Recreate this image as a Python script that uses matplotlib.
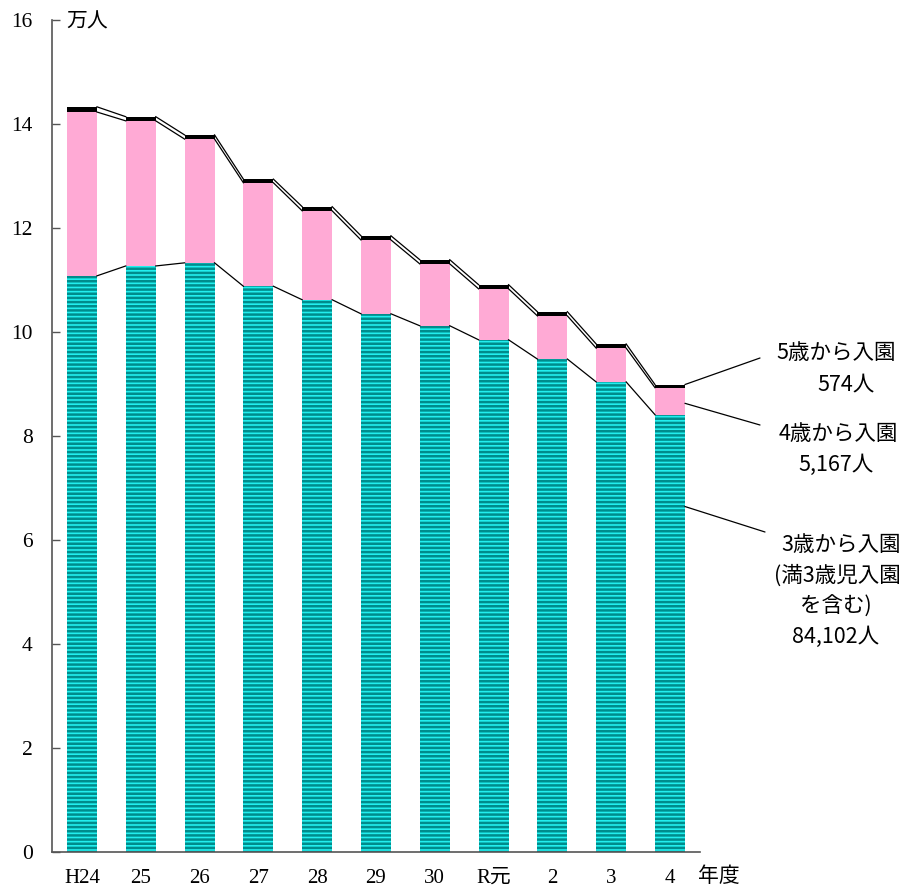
import matplotlib.pyplot as plt
import numpy as np

plt.rcParams['font.family'] = ['Liberation Serif', 'Noto Sans CJK JP']
plt.rcParams['hatch.linewidth'] = 1.8

years = ['H24', '25', '26', '27', '28', '29', '30', 'R元', '2', '3', '4']
# 単位: 万人
age3 = [11.08, 11.27, 11.33, 10.88, 10.62, 10.35, 10.12, 9.85, 9.48, 9.04, 8.41]
age4 = [3.15, 2.79, 2.38, 1.99, 1.71, 1.42, 1.19, 0.98, 0.83, 0.65, 0.52]
age5 = [0.10, 0.08, 0.08, 0.07, 0.08, 0.08, 0.08, 0.08, 0.08, 0.08, 0.06]

age3 = np.array(age3)
age4 = np.array(age4)
age5 = np.array(age5)
x = np.arange(len(years))
w = 0.51

fig = plt.figure(figsize=(9.12, 8.88), dpi=100)
ax = fig.add_axes([0.057, 0.0405, 0.7105, 0.937])

ax.bar(x, age3, w, color='#22eeee', edgecolor='#008c8c', hatch='----', linewidth=0)
ax.bar(x, age4, w, bottom=age3, color='#ffaad5', linewidth=0)
ax.bar(x, age5, w, bottom=age3 + age4, color='black', linewidth=0)

# series lines between bars
for top in [age3, age3 + age4, age3 + age4 + age5]:
    for i in range(len(x) - 1):
        ax.plot([x[i] + w / 2, x[i + 1] - w / 2], [top[i], top[i + 1]],
                color='black', lw=0.9)

ax.set_xlim(-0.51, 10.51)
ax.set_ylim(0, 16)
ax.set_yticks(np.arange(0, 17, 2))
ax.set_xticks(x)
ax.set_xticklabels(years)
ax.tick_params(axis='y', direction='in', length=6, width=1, color='#555555',
               labelsize=15.5, pad=14)
ax.tick_params(axis='x', length=0, labelsize=15, pad=12)
for s in ['top', 'right']:
    ax.spines[s].set_visible(False)
for s in ['left', 'bottom']:
    ax.spines[s].set_color('#555555')
    ax.spines[s].set_linewidth(1.2)

fig.text(66, 866, '万人', transform=None, fontsize=15, va='center',
         family=['Noto Sans CJK JP'])
fig.text(698, 12, '年度', transform=None, fontsize=15, va='center',
         family=['Noto Sans CJK JP'])

# leader lines and labels
gothic = ['Noto Sans CJK JP']
fs = 15.5
last = len(x) - 1
ax.annotate('', xy=(x[last] + w / 2, age3[last] + age4[last] + age5[last]),
            xytext=(760, 888 - 358), textcoords='figure pixels',
            arrowprops=dict(arrowstyle='-', lw=0.9, shrinkA=0, shrinkB=0),
            annotation_clip=False)
ax.annotate('', xy=(x[last] + w / 2, age3[last] + age4[last] * 0.42),
            xytext=(760, 888 - 425), textcoords='figure pixels',
            arrowprops=dict(arrowstyle='-', lw=0.9, shrinkA=0, shrinkB=0),
            annotation_clip=False)
ax.annotate('', xy=(x[last] + w / 2, age3[last] * 0.79),
            xytext=(765, 888 - 532), textcoords='figure pixels',
            arrowprops=dict(arrowstyle='-', lw=0.9, shrinkA=0, shrinkB=0),
            annotation_clip=False)

fig.text(836, 888 - 353, '5歳から入園', transform=None, fontsize=fs,
         ha='center', va='center', family=gothic)
fig.text(846, 888 - 384, '574人', transform=None, fontsize=fs,
         ha='center', va='center', family=gothic)
fig.text(838, 888 - 434, '4歳から入園', transform=None, fontsize=fs,
         ha='center', va='center', family=gothic)
fig.text(836, 888 - 465, '5,167人', transform=None, fontsize=fs,
         ha='center', va='center', family=gothic)
fig.text(841, 888 - 545, '3歳から入園', transform=None, fontsize=fs,
         ha='center', va='center', family=gothic)
fig.text(837, 888 - 576, '(満3歳児入園', transform=None, fontsize=fs,
         ha='center', va='center', family=gothic)
fig.text(836, 888 - 607, 'を含む)', transform=None, fontsize=fs,
         ha='center', va='center', family=gothic)
fig.text(836, 888 - 637, '84,102人', transform=None, fontsize=fs,
         ha='center', va='center', family=gothic)

fig.savefig('out.png', dpi=100)
